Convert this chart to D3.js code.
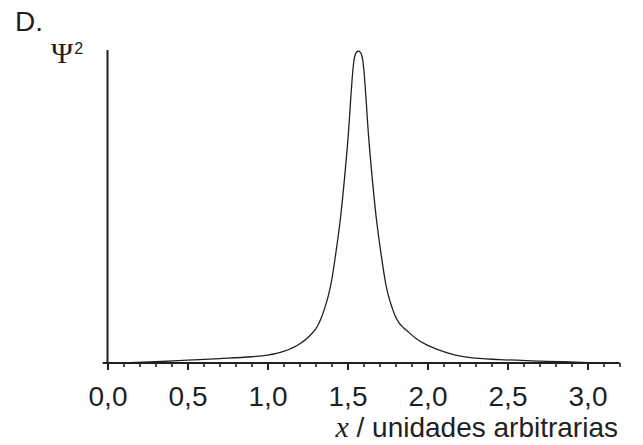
<!DOCTYPE html>
<html>
<head>
<meta charset="utf-8">
<script src="https://cdn.jsdelivr.net/npm/d3@7"></script>
<style>
  body { margin: 0; background: #fff; }
  svg { display: block; }
  .tick-label { font-family: "Liberation Sans", Arial, sans-serif; font-size: 28px; fill: #231f20; }
</style>
</head>
<body>
<div id="chart"></div>
<script>
// x positions (arbitrary units) and Psi^2 values (peak = 1)
const xValues = [0.10, 0.30, 0.50, 0.70, 0.90, 1.00, 1.10, 1.20, 1.26, 1.31, 1.34, 1.36, 1.38, 1.40, 1.425, 1.455,
  1.502, 1.540, 1.552, 1.568, 1.584, 1.596, 1.634, 1.681, 1.711, 1.736, 1.756, 1.777, 1.795,
  1.82, 1.85, 1.87, 1.93, 1.995, 2.07, 2.14, 2.27, 2.45, 2.65, 2.85, 3.05];
const psi2Values = [0.000, 0.004, 0.009, 0.014, 0.020, 0.025, 0.037, 0.061, 0.085, 0.116, 0.150, 0.180, 0.215, 0.262, 0.345, 0.460,
  0.712, 0.968, 0.993, 1.000, 0.993, 0.968, 0.712, 0.460, 0.345, 0.262, 0.215, 0.180, 0.155,
  0.130, 0.113, 0.104, 0.078, 0.058, 0.042, 0.030, 0.017, 0.011, 0.007, 0.004, 0.000];
const majorTicks = [0, 0.5, 1.0, 1.5, 2.0, 2.5, 3.0];
const minorTicks = d3.range(0, 33).map(i => i / 10);

const W = 643, H = 445;
const ink = "#231f20";

const svg = d3.select("#chart").append("svg")
    .attr("width", W)
    .attr("height", H);

const x = d3.scaleLinear().domain([0, 3.2]).range([107.5, 619.5]);
const y = d3.scaleLinear().domain([0, 1]).range([363, 51]);

const fmt = d3.formatLocale({ decimal: ",", thousands: ".", grouping: [3], currency: ["", ""] }).format(".1f");

// minor ticks
svg.append("g")
    .attr("transform", `translate(0,${y(0)})`)
    .call(d3.axisBottom(x).tickValues(minorTicks).tickSize(4).tickFormat(""))
    .call(g => g.select(".domain").remove())
    .call(g => g.selectAll("line").attr("stroke", ink).attr("stroke-width", 1.6));

// major ticks + labels
svg.append("g")
    .attr("transform", `translate(0,${y(0)})`)
    .call(d3.axisBottom(x).tickValues(majorTicks).tickSize(7).tickPadding(16).tickFormat(fmt))
    .call(g => g.select(".domain").remove())
    .call(g => g.selectAll("line").attr("stroke", ink).attr("stroke-width", 2))
    .call(g => g.selectAll("text").attr("class", "tick-label").attr("fill", ink));

// axis lines
svg.append("line")
    .attr("x1", x(-0.03)).attr("x2", x(3.2))
    .attr("y1", y(0)).attr("y2", y(0))
    .attr("stroke", ink).attr("stroke-width", 2.2);

svg.append("line")
    .attr("x1", x(0)).attr("x2", x(0))
    .attr("y1", 50).attr("y2", y(0))
    .attr("stroke", ink).attr("stroke-width", 2);

// curve
const line = d3.line()
    .x((d, i) => x(xValues[i]))
    .y(d => y(d))
    .curve(d3.curveMonotoneX);

svg.append("path")
    .datum(psi2Values)
    .attr("fill", "none")
    .attr("stroke", ink)
    .attr("stroke-width", 1.3)
    .attr("d", line);

// texts
svg.append("text")
    .attr("x", 15).attr("y", 31)
    .attr("font-family", "Liberation Sans, Arial, sans-serif")
    .attr("font-size", 28)
    .attr("fill", ink)
    .text("D.");

const yLab = svg.append("text")
    .attr("x", 51).attr("y", 63)
    .attr("fill", ink);
yLab.append("tspan")
    .attr("font-family", "Liberation Serif, Times New Roman, serif")
    .attr("font-size", 30)
    .text("Ψ");
yLab.append("tspan")
    .attr("font-family", "Liberation Sans, Arial, sans-serif")
    .attr("font-size", 16)
    .attr("dx", 1)
    .attr("dy", -9)
    .text("2");

const xLab = svg.append("text")
    .attr("x", 618).attr("y", 437)
    .attr("text-anchor", "end")
    .attr("fill", ink)
    .attr("font-family", "Liberation Sans, Arial, sans-serif")
    .attr("font-size", 28);
xLab.append("tspan")
    .attr("font-family", "Liberation Serif, Times New Roman, serif")
    .attr("font-style", "italic")
    .attr("font-size", 30)
    .text("x");
xLab.append("tspan").text(" / unidades arbitrarias");
</script>
</body>
</html>
